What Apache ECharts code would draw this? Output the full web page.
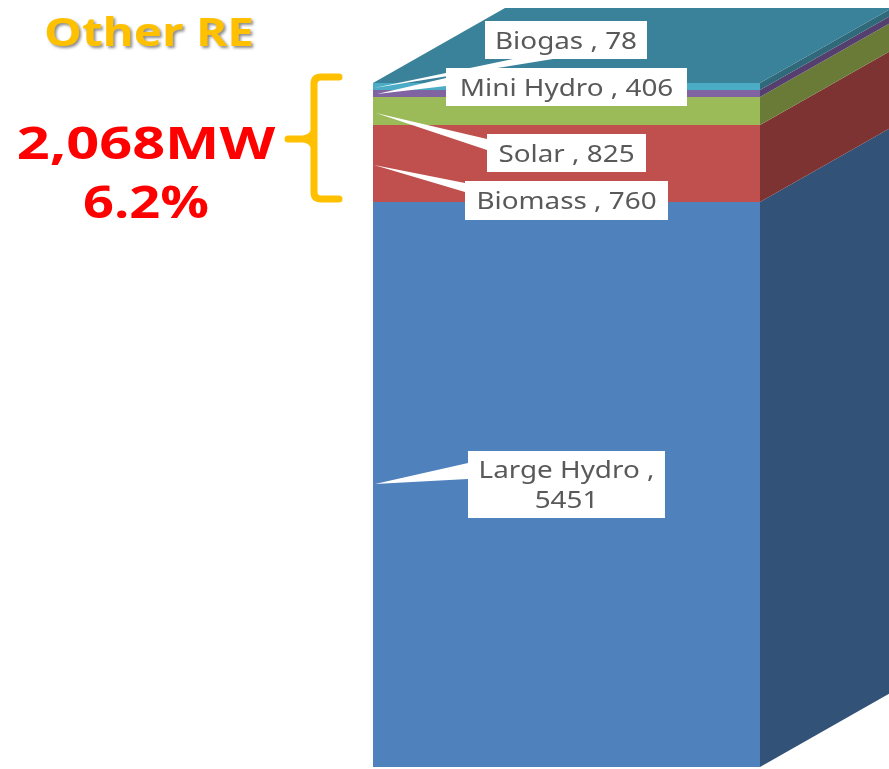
<!DOCTYPE html>
<html>
<head>
<meta charset="utf-8">
<style>
    html, body { margin: 0; padding: 0; background: #fff; }
    #myChart { width: 889px; height: 769px; }
</style>
<script src="https://cdn.jsdelivr.net/npm/echarts@6/dist/echarts.min.js"></script>
</head>
<body>
<div id="myChart"></div>
<script>
    // bottom to top
    var categories = ['Large Hydro', 'Biomass', 'Solar', 'Mini Hydro', 'Biogas']
    // numbers printed in the labels
    var labelValues = [5451, 760, 825, 406, 78]
    // band heights as they are actually drawn in the picture (they do not follow the labels)
    var drawnValues = [5451, 743, 270, 68, 68]
    var frontColors = ['#4f81bd', '#c0504d', '#9bbb59', '#8064a2', '#4bacc6']
    var sideColors = ['#325277', '#7c3331', '#6a7b38', '#553f6f', '#30697a']
    var topColor = '#39829a'
    var totalText = '2,068MW'
    var shareText = '6.2%'
    var titleText = 'Other RE'

    // 3d depth of the column, in pixels
    var depthX = 132
    var depthY = 75

    // callout boxes: x, y, w, h, wedge tip and wedge base, same order as categories
    var callouts = [
        {box: [468, 451, 197, 67], wedge: [[375, 484], [468, 463], [468, 479]]},
        {box: [465, 181, 203, 39], wedge: [[374, 165], [465, 183], [465, 192]]},
        {box: [487, 134, 159, 38], wedge: [[376, 113], [487, 139], [487, 150]]},
        {box: [446, 68, 241, 38], wedge: [[377, 94], [446, 78], [446, 86]]},
        {box: [485, 21, 162, 38], wedge: [[374, 88], [513, 59], [553, 59]]}
    ]

    var myChart = echarts.init(document.getElementById('myChart'), null, {renderer: 'canvas'})

    var series = categories.map(function (name, i) {
        return {
            name: name,
            type: 'bar',
            stack: 'total',
            barWidth: '100%',
            itemStyle: {color: frontColors[i]},
            data: [drawnValues[i]]
        }
    })

    // side faces and the top face
    var start = 0
    var sideData = drawnValues.map(function (v, i) {
        var row = [start, start + v, i]
        start += v
        return row
    })
    series.push({
        type: 'custom',
        silent: true,
        z: 3,
        data: sideData,
        renderItem: function (params, api) {
            var low = api.coord([0, api.value(0)])
            var high = api.coord([0, api.value(1)])
            var half = api.size([1, 0])[0] / 2
            var right = low[0] + half
            var left = low[0] - half
            var i = api.value(2)
            var children = [{
                type: 'polygon',
                shape: {points: [[right, low[1]], [right + depthX, low[1] - depthY], [right + depthX, high[1] - depthY], [right, high[1]]]},
                style: {fill: sideColors[i]}
            }]
            if (i === categories.length - 1) {
                children.push({
                    type: 'polygon',
                    shape: {points: [[left, high[1]], [left + depthX, high[1] - depthY], [right + depthX, high[1] - depthY], [right, high[1]]]},
                    style: {fill: topColor}
                })
            }
            return {type: 'group', children: children}
        }
    })

    // the brace
    series.push({
        type: 'custom',
        silent: true,
        z: 4,
        data: [[0]],
        renderItem: function () {
            return {
                type: 'path',
                shape: {
                    pathData: 'M339 77 L321 77 Q314 77 314 84 L314 192 Q314 199 321 199 L339 199 M288 139 L303 139 Q312 138 314 131 M303 139 Q312 140 314 147'
                },
                style: {fill: null, stroke: '#ffc000', lineWidth: 7, lineCap: 'round'}
            }
        }
    })

    var graphic = []
    // wedges first, boxes on top
    callouts.forEach(function (c) {
        graphic.push({
            type: 'polygon',
            z: 100,
            shape: {points: c.wedge},
            style: {fill: '#fff'}
        })
    })
    callouts.forEach(function (c, i) {
        graphic.push({
            type: 'rect',
            z: 101,
            shape: {x: c.box[0], y: c.box[1], width: c.box[2], height: c.box[3]},
            style: {fill: '#fff'}
        })
        var sep = i === 0 ? ' ,\n' : ' , '
        graphic.push({
            type: 'text',
            z: 102,
            x: c.box[0] + c.box[2] / 2,
            y: c.box[1] + c.box[3] / 2 + 2,
            scaleX: 1.16,
            style: {
                text: categories[i] + sep + labelValues[i],
                fill: '#595959',
                font: '24px "Noto Sans"',
                lineHeight: 30,
                align: 'center',
                verticalAlign: 'middle'
            }
        })
    })

    // left side annotations
    graphic.push({
        type: 'text',
        z: 102,
        x: 149,
        y: 35,
        scaleX: 1.19,
        style: {
            text: titleText,
            fill: '#ffc000',
            font: 'bold 40px "Open Sans"',
            align: 'center',
            verticalAlign: 'middle',
            textShadowColor: 'rgba(0,0,0,0.45)',
            textShadowBlur: 3,
            textShadowOffsetX: 2,
            textShadowOffsetY: 2
        }
    })
    graphic.push({
        type: 'text',
        z: 102,
        x: 146,
        y: 146,
        scaleX: 1.31,
        style: {text: totalText, fill: '#ff0000', font: 'bold 44px "Open Sans"', align: 'center', verticalAlign: 'middle'}
    })
    graphic.push({
        type: 'text',
        z: 102,
        x: 146,
        y: 205,
        scaleX: 1.23,
        style: {text: shareText, fill: '#ff0000', font: 'bold 44px "Open Sans"', align: 'center', verticalAlign: 'middle'}
    })

    myChart.setOption({
        animation: false,
        grid: {left: 373, width: 387, top: 83, height: 684},
        xAxis: {type: 'category', data: ['Capacity'], show: false},
        yAxis: {type: 'value', min: 0, max: 6600, show: false},
        series: series,
        graphic: graphic
    })
</script>
</body>
</html>
